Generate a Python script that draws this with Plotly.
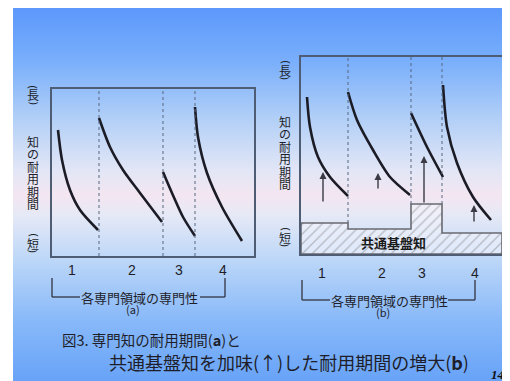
import base64
import plotly.graph_objects as go

# page has an 8px body margin: the figure is sized to fit the window from (8,8)
OFF = 8
W, H = 510 - OFF, 381 - OFF

# ---------------- data ----------------
section_labels = ["1", "2", "3", "4"]
edges_a = [0, 47, 111, 143, 202]
edges_b = [0, 47, 110, 141, 201]
label_x_a = [20, 80, 127, 171]
label_x_b = [21, 81, 121, 174]

# panel (a) durability curves
a1_x = [6, 10, 18, 28, 46];      a1_y = [126, 96, 66, 46, 26]
a2_x = [47, 58, 71, 88, 110];    a2_y = [138, 109, 86, 63, 34]
a3_x = [111, 120, 131, 143];     a3_y = [84, 63, 39, 20]
a4_x = [143, 146, 155, 170, 190]; a4_y = [149, 119, 83, 49, 15]

# panel (b) durability curves
b1_x = [6, 9, 17, 29, 47];       b1_y = [157, 127, 97, 77, 58]
b2_x = [47, 56, 72, 89, 109];    b2_y = [162, 134, 104, 77, 59]
b3_x = [110, 126, 142];          b3_y = [141, 107, 77]
b4_x = [142, 146, 156, 172, 190]; b4_y = [169, 127, 91, 57, 34]

# common base knowledge levels per section (b)
base_b = [31, 25, 50, 21]
# arrows (b)
arrow_x = [22, 77, 123, 173]
arrow_from = [51, 64, 50, 31]
arrow_to = [82, 81, 98, 49]

ylabel_chars = ["知", "の", "耐", "用", "期", "間"]
xlabel_text = "各専門領域の専門性"
caption1 = "図3. 専門知の耐用期間(<b>a</b>)と"
caption2 = "共通基盤知を加味(↑)した耐用期間の増大(<b>b</b>)"
page_no = "14"

# ---------------- helpers ----------------
def px(x):
    return (x - OFF) / W

def py(y):
    return 1 - (y - OFF) / H

FONT = "Noto Sans CJK JP"
TXT = "#1e1e2a"

fig = go.Figure()

# background gradient (slide)
stops = [(7, "#5c98fb"), (60, "#78aefb"), (120, "#b3d0f7"), (170, "#e2e6f6"),
         (195, "#f3e6f1"), (215, "#e6e9f6"), (260, "#bcd7f8"), (320, "#88b9f9"),
         (381, "#68a3f8")]
stop_xml = "".join(
    f'<stop offset="{(y - 7) / 374:.4f}" stop-color="{c}"/>' for y, c in stops)
svg = ('<svg xmlns="http://www.w3.org/2000/svg" width="497" height="374" '
       'preserveAspectRatio="none"><defs><linearGradient id="g" x1="0" y1="0" '
       f'x2="0" y2="1">{stop_xml}</linearGradient></defs>'
       '<rect width="497" height="374" fill="url(#g)"/></svg>')
src = "data:image/svg+xml;base64," + base64.b64encode(svg.encode()).decode()
fig.add_layout_image(source=src, xref="paper", yref="paper", x=px(13), y=py(7),
                     sizex=497 / W, sizey=374 / H, xanchor="left", yanchor="top",
                     sizing="stretch", layer="below")

CURVE = dict(color="#1c1c26", width=2.6, shape="spline", smoothing=0.8)

# panel a curves
for xs, ys in [(a1_x, a1_y), (a2_x, a2_y), (a3_x, a3_y), (a4_x, a4_y)]:
    fig.add_trace(go.Scatter(x=xs, y=ys, mode="lines", line=CURVE,
                             xaxis="x", yaxis="y", hoverinfo="skip", showlegend=False))

# panel b: common base (hatched)
bx, by = [edges_b[0]], [0]
for i, lvl in enumerate(base_b):
    bx += [edges_b[i], edges_b[i + 1]]
    by += [lvl, lvl]
bx += [edges_b[-1], edges_b[0]]
by += [0, 0]
fig.add_trace(go.Scatter(x=bx, y=by, mode="lines", fill="toself",
                         fillcolor="rgba(255,255,255,0.4)",
                         fillpattern=dict(shape="/", fgcolor="#8c8c90",
                                          bgcolor="rgba(246,246,252,0.55)",
                                          size=7, solidity=0.2),
                         line=dict(color="#6a6a70", width=1.6),
                         xaxis="x2", yaxis="y2", hoverinfo="skip", showlegend=False))

for xs, ys in [(b1_x, b1_y), (b2_x, b2_y), (b3_x, b3_y), (b4_x, b4_y)]:
    fig.add_trace(go.Scatter(x=xs, y=ys, mode="lines", line=CURVE,
                             xaxis="x2", yaxis="y2", hoverinfo="skip", showlegend=False))

shapes = []
# section dividers
for e in edges_a[1:-1]:
    shapes.append(dict(type="line", xref="x", yref="y", x0=e, x1=e, y0=0, y1=167,
                       line=dict(color="#56667e", width=1, dash="dot")))
for i, e in enumerate(edges_b[1:-1]):
    lo = max(base_b[i], base_b[i + 1])
    shapes.append(dict(type="line", xref="x2", yref="y2", x0=e, x1=e, y0=lo, y1=197,
                       line=dict(color="#56667e", width=1, dash="dot")))

# brackets
BR = dict(color="#333340", width=1.3)
for (l, r, top, bot, t0, t1) in [(52, 225, 278, 297, 80, 200), (302, 475, 280, 300, 330, 448)]:
    shapes.append(dict(type="line", xref="paper", yref="paper", x0=px(l), x1=px(l), y0=py(top), y1=py(bot), line=BR))
    shapes.append(dict(type="line", xref="paper", yref="paper", x0=px(r), x1=px(r), y0=py(top), y1=py(bot), line=BR))
    shapes.append(dict(type="line", xref="paper", yref="paper", x0=px(l), x1=px(t0), y0=py(bot), y1=py(bot), line=BR))
    shapes.append(dict(type="line", xref="paper", yref="paper", x0=px(t1), x1=px(r), y0=py(bot), y1=py(bot), line=BR))

ann = []
def txt(x, y, s, size, **kw):
    d = dict(xref="paper", yref="paper", x=px(x), y=py(y), text=s, showarrow=False,
             font=dict(family=FONT, size=size, color=TXT), xanchor="center", yanchor="middle")
    d.update(kw)
    ann.append(d)

# tick numbers
for lab, xv in zip(section_labels, label_x_a):
    ann.append(dict(xref="x", yref="paper", x=xv, y=py(270), text=lab, showarrow=False,
                    font=dict(family="Liberation Sans", size=14, color=TXT), yanchor="middle"))
for lab, xv in zip(section_labels, label_x_b):
    ann.append(dict(xref="x2", yref="paper", x=xv, y=py(273), text=lab, showarrow=False,
                    font=dict(family="Liberation Sans", size=14, color=TXT), yanchor="middle"))

# y labels (vertical writing; parentheses turned sideways)
for cx, ylong, ytop, yshort in [(33, 95, 135, 243), (285, 70, 115, 237)]:
    for yc in (ylong, yshort):
        txt(cx, yc - 8, "(", 11, textangle=90, font=dict(family="DejaVu Sans", size=11, color=TXT))
        txt(cx, yc + 8, ")", 11, textangle=90, font=dict(family="DejaVu Sans", size=11, color=TXT))
    txt(cx, ylong, "長", 12)
    for i, ch in enumerate(ylabel_chars):
        txt(cx, ytop + 6.25 + 12.5 * i, ch, 12)
    txt(cx, yshort, "短", 12)

# x labels
txt(139.5, 297, xlabel_text, 13)
txt(389, 300, xlabel_text, 13)
txt(133, 309, "(a)", 11)
txt(383, 312, "(b)", 11)

# base label
ann.append(dict(xref="x2", yref="y2", x=92, y=12, text="<b>共通基盤知</b>", showarrow=False,
                font=dict(family=FONT, size=13, color="#1a1a1a")))

# arrows
for xv, y0, y1 in zip(arrow_x, arrow_from, arrow_to):
    ann.append(dict(xref="x2", yref="y2", axref="x2", ayref="y2", x=xv, y=y1, ax=xv, ay=y0,
                    text="", showarrow=True, arrowhead=2, arrowsize=1, arrowwidth=1.4,
                    arrowcolor="#3a3a44", standoff=0, startstandoff=0))

# caption
txt(60, 339, caption1, 14.5, xanchor="left")
txt(107, 362, caption2, 18, xanchor="left")
ann.append(dict(xref="paper", yref="paper", x=px(498), y=py(374), text="<i><b>" + page_no + "</b></i>",
                showarrow=False, font=dict(family="Liberation Serif", size=13, color="#111"),
                xanchor="center", yanchor="middle"))

AX = dict(showgrid=False, zeroline=False, showticklabels=False, ticks="",
          showline=True, mirror=True, linecolor="#4e5d74", linewidth=1.6, fixedrange=True)

fig.update_layout(
    width=W, height=H, margin=dict(l=0, r=0, t=0, b=0),
    paper_bgcolor="white", plot_bgcolor="rgba(0,0,0,0)",
    xaxis=dict(AX, domain=[px(52), px(254)], range=[edges_a[0], edges_a[-1]]),
    yaxis=dict(AX, domain=[py(256), py(89)], range=[0, 167]),
    xaxis2=dict(AX, domain=[px(301), px(502)], range=[edges_b[0], edges_b[-1]], anchor="y2"),
    yaxis2=dict(AX, domain=[py(254), py(57)], range=[0, 197], anchor="x2"),
    shapes=shapes, annotations=ann, showlegend=False,
)

fig.write_html("out.html")
